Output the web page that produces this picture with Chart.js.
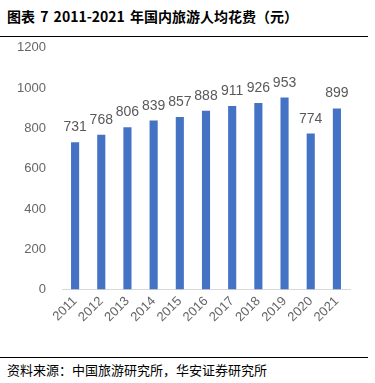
<!DOCTYPE html>
<html>
<head>
<meta charset="utf-8">
<script src="https://cdn.jsdelivr.net/npm/chart.js@4"></script>
<style>
  body { margin: 0; width: 375px; height: 383px; background: #fff; position: relative; overflow: hidden; font-family: "Noto Sans CJK SC", sans-serif; }
  #title { position: absolute; left: 7px; top: 6px; font-size: 14px; font-weight: bold; color: #000; white-space: nowrap; word-spacing: 2px; }
  #topline { position: absolute; left: 0; top: 36px; width: 368px; height: 1px; background: #000; }
  #box { position: absolute; left: 0; top: 24px; width: 375px; height: 305px; }
  #botline { position: absolute; left: 0; top: 357px; width: 368px; height: 1px; background: #000; }
  #source { position: absolute; left: 7px; top: 360px; font-size: 13px; color: #000; white-space: nowrap; }
</style>
</head>
<body>
<div id="title">图表 7 2011-2021 年国内旅游人均花费（元）</div>
<div id="topline"></div>
<div id="box"><canvas id="chart"></canvas></div>
<div id="botline"></div>
<div id="source">资料来源：中国旅游研究所，华安证券研究所</div>
<script>
const years = ['2011', '2012', '2013', '2014', '2015', '2016', '2017', '2018', '2019', '2020', '2021'];
const spending = [731, 768, 806, 839, 857, 888, 911, 926, 953, 774, 899];
const yTicks = [0, 200, 400, 600, 800, 1000, 1200];

let chart = document.querySelector('#chart');

// values above the bars
const valueLabels = {
    id: 'valueLabels',
    afterDatasetsDraw(c) {
        const ctx = c.ctx;
        const meta = c.getDatasetMeta(0);
        ctx.save();
        ctx.font = '14px "Liberation Sans", Arial, sans-serif';
        ctx.fillStyle = '#595959';
        ctx.textAlign = 'center';
        ctx.textBaseline = 'alphabetic';
        meta.data.forEach((bar, i) => {
            ctx.fillText(String(spending[i]), bar.x, bar.y - 11);
        });
        ctx.restore();
    }
};

new Chart(chart, {
    type: 'bar',
    data: {
        labels: years,
        datasets: [{
            data: spending,
            backgroundColor: '#4472C4',
            barPercentage: 0.31,
            categoryPercentage: 1.0,
        }]
    },
    options: {
        responsive: true,
        maintainAspectRatio: false,
        animation: false,
        layout: { padding: { top: 2, right: 25, left: 0, bottom: 0 } },
        plugins: {
            legend: { display: false },
            tooltip: { enabled: false },
        },
        scales: {
            x: {
                grid: { display: false, drawTicks: false },
                border: { display: true, color: '#D9D9D9', width: 1 },
                ticks: {
                    color: '#666666',
                    font: { family: '"Liberation Sans", Arial, sans-serif', size: 13 },
                    autoSkip: false,
                    minRotation: 45,
                    maxRotation: 45,
                    padding: 4,
                }
            },
            y: {
                min: 0,
                max: 1200,
                afterFit(scale) { scale.width = 62; },
                afterBuildTicks(scale) { scale.ticks = yTicks.map(v => ({ value: v })); },
                grid: { display: false, drawTicks: false },
                border: { display: false },
                ticks: {
                    color: '#666666',
                    font: { family: '"Liberation Sans", Arial, sans-serif', size: 13 },
                    padding: 16,
                    callback: (v) => String(v),
                }
            }
        }
    },
    plugins: [valueLabels]
});
</script>
</body>
</html>
